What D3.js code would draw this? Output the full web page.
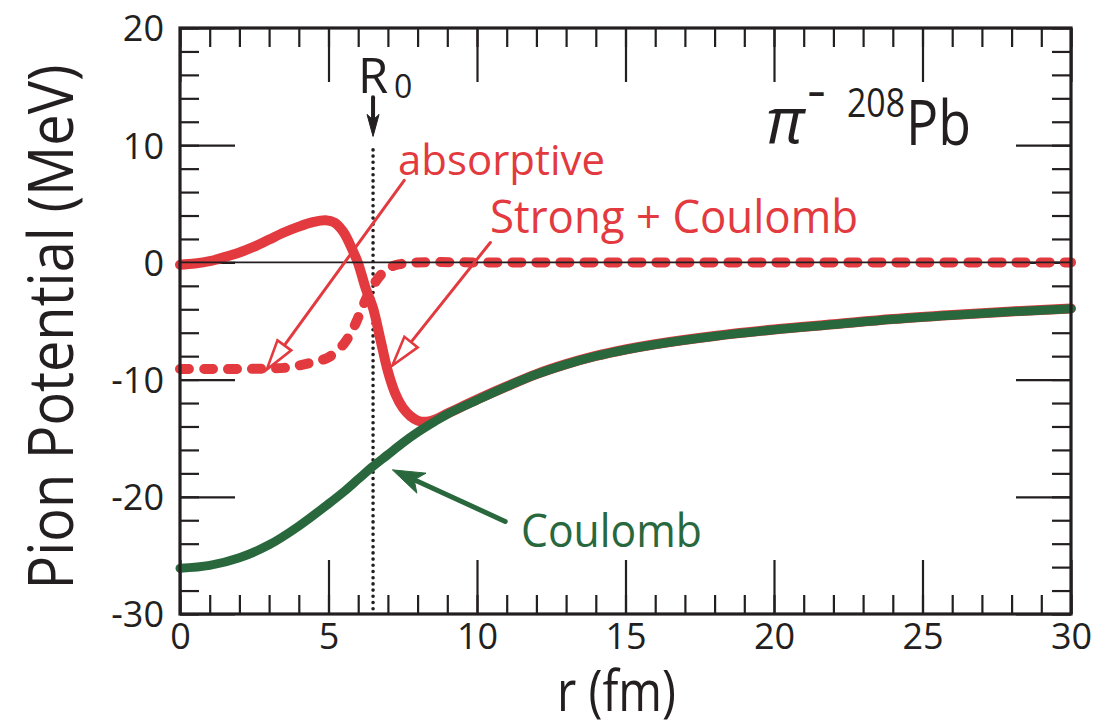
<!DOCTYPE html>
<html>
<head>
<meta charset="utf-8">
<script src="https://cdn.jsdelivr.net/npm/d3@7"></script>
<style>
  html, body { margin: 0; padding: 0; background: #fff; }
  svg { display: block; }
  text { font-family: "Open Sans", "Noto Sans", sans-serif; fill: #231f20; }
</style>
</head>
<body>
<svg id="chart" width="1115" height="724"></svg>
<script>
// ---------------- data ----------------
const rCoulomb = [0, 1, 2, 3, 4, 5, 5.5, 6, 6.5, 7, 7.5, 8, 8.5, 9, 10, 11, 12, 13, 14, 15, 16, 18, 20, 22, 24, 26, 28, 30];
const vCoulomb = [-26.1, -25.85, -25.2, -24.1, -22.5, -20.6, -19.6, -18.5, -17.4, -16.4, -15.4, -14.5, -13.7, -12.95, -11.75, -10.6, -9.55, -8.7, -8.0, -7.45, -7.0, -6.3, -5.75, -5.3, -4.85, -4.5, -4.2, -3.95];

const rStrong = [0, 0.5, 1, 1.5, 2, 2.5, 3, 3.5, 4, 4.5, 4.9, 5.2, 5.5, 5.8, 6.0, 6.25, 6.5, 6.75, 7.0, 7.25, 7.5, 7.75, 8.0, 8.3, 8.6, 9.0, 9.5, 10, 11, 12, 13, 14, 15, 16, 18, 20, 22, 24, 26, 28, 30];
const vStrong = [-0.2, -0.1, 0.1, 0.45, 0.85, 1.35, 1.95, 2.55, 3.05, 3.45, 3.6, 3.4, 2.6, 1.1, -0.1, -2.2, -3.9, -6.6, -9.3, -11.2, -12.4, -13.1, -13.5, -13.6, -13.4, -12.9, -12.3, -11.7, -10.58, -9.53, -8.68, -7.98, -7.43, -6.98, -6.28, -5.73, -5.28, -4.83, -4.48, -4.18, -3.93];

const rAbsorb = [0, 1, 2, 3, 3.5, 4, 4.5, 5, 5.5, 5.8, 6.0, 6.25, 6.5, 6.75, 7.0, 7.4, 8, 10, 15, 20, 25, 30];
const vAbsorb = [-9.1, -9.1, -9.1, -9.05, -9.0, -8.8, -8.5, -8.1, -7.0, -5.8, -4.7, -3.2, -2.0, -1.1, -0.5, -0.15, 0, 0, 0, 0, 0, 0];

const xMajorTicks = [0, 5, 10, 15, 20, 25, 30];
const xMinorTicks = d3.range(0, 31, 1);
const yMajorTicks = [-30, -20, -10, 0, 10, 20];
const yMinorTicks = d3.range(-30, 21, 2);
const xTickLabels = ["0", "5", "10", "15", "20", "25", "30"];
const yTickLabels = ["-30", "-20", "-10", "0", "10", "20"];

const R0 = 6.5;

// ---------------- setup ----------------
const svg = d3.select("#chart");
const L = 180, R = 1071, T = 28, B = 614;
const x = d3.scaleLinear().domain([0, 30]).range([L, R]);
const y = d3.scaleLinear().domain([-30, 20]).range([B, T]);

const RED = "#e23a3f", GREEN = "#29683d", INK = "#231f20";

function styleAxis(g) {
  g.select(".domain").remove();
  g.selectAll(".tick line").attr("stroke", INK).attr("stroke-width", 2.2);
  g.selectAll(".tick text").remove();
}

// inward ticks on all four sides
svg.append("g").attr("transform", `translate(0,${B})`)
  .call(d3.axisBottom(x).tickValues(xMinorTicks).tickSize(-19).tickSizeOuter(0)).call(styleAxis);
svg.append("g").attr("transform", `translate(0,${B})`)
  .call(d3.axisBottom(x).tickValues(xMajorTicks).tickSize(-54).tickSizeOuter(0)).call(styleAxis);
svg.append("g").attr("transform", `translate(0,${T})`)
  .call(d3.axisTop(x).tickValues(xMinorTicks).tickSize(-19).tickSizeOuter(0)).call(styleAxis);
svg.append("g").attr("transform", `translate(0,${T})`)
  .call(d3.axisTop(x).tickValues(xMajorTicks).tickSize(-54).tickSizeOuter(0)).call(styleAxis);
svg.append("g").attr("transform", `translate(${L},0)`)
  .call(d3.axisLeft(y).tickValues(yMinorTicks).tickSize(-19).tickSizeOuter(0)).call(styleAxis);
svg.append("g").attr("transform", `translate(${L},0)`)
  .call(d3.axisLeft(y).tickValues(yMajorTicks).tickSize(-55).tickSizeOuter(0)).call(styleAxis);
svg.append("g").attr("transform", `translate(${R},0)`)
  .call(d3.axisRight(y).tickValues(yMinorTicks).tickSize(-19).tickSizeOuter(0)).call(styleAxis);
svg.append("g").attr("transform", `translate(${R},0)`)
  .call(d3.axisRight(y).tickValues(yMajorTicks).tickSize(-55).tickSizeOuter(0)).call(styleAxis);

// tick labels via axes
const xLab = svg.append("g").attr("transform", `translate(0,${B})`)
  .call(d3.axisBottom(x).tickValues(xMajorTicks).tickSize(0).tickPadding(8)
    .tickFormat((d, i) => xTickLabels[i]));
xLab.select(".domain").remove();
xLab.selectAll(".tick text").attr("font-size", 36).attr("fill", INK)
  .attr("font-family", "'Open Sans', 'Noto Sans', sans-serif").attr("dy", "0.74em");

const yLab = svg.append("g").attr("transform", `translate(${L},0)`)
  .call(d3.axisLeft(y).tickValues(yMajorTicks).tickSize(0).tickPadding(16)
    .tickFormat((d, i) => yTickLabels[i]));
yLab.select(".domain").remove();
yLab.selectAll(".tick text").attr("font-size", 36).attr("fill", INK)
  .attr("font-family", "'Open Sans', 'Noto Sans', sans-serif").attr("dy", "0.36em");

// ---------------- curves ----------------
const line = d3.line().x(d => x(d[0])).y(d => y(d[1])).curve(d3.curveCatmullRom.alpha(0.5));
const zip = (a, b) => a.map((v, i) => [v, b[i]]);

// R0 dotted line
svg.append("line")
  .attr("x1", x(R0)).attr("x2", x(R0)).attr("y1", y(9.6)).attr("y2", y(-30))
  .attr("stroke", INK).attr("stroke-width", 3.6).attr("stroke-linecap", "round")
  .attr("stroke-dasharray", "0 6.2");

svg.append("path").datum(zip(rAbsorb, vAbsorb))
  .attr("d", line).attr("fill", "none").attr("stroke", RED)
  .attr("stroke-width", 10).attr("stroke-linecap", "round").attr("stroke-dasharray", "9 15");

svg.append("path").datum(zip(rStrong, vStrong))
  .attr("d", line).attr("fill", "none").attr("stroke", RED)
  .attr("stroke-width", 10).attr("stroke-linecap", "round").attr("stroke-linejoin", "round");

svg.append("path").datum(zip(rCoulomb, vCoulomb))
  .attr("d", line).attr("fill", "none").attr("stroke", GREEN)
  .attr("stroke-width", 9).attr("stroke-linecap", "round").attr("stroke-linejoin", "round");

// zero line
svg.append("line").attr("x1", x(0)).attr("x2", x(30)).attr("y1", y(0)).attr("y2", y(0))
  .attr("stroke", INK).attr("stroke-width", 1.6);

// frame
svg.append("rect").attr("x", L).attr("y", T).attr("width", R - L).attr("height", B - T)
  .attr("fill", "none").attr("stroke", INK).attr("stroke-width", 3.2);

// ---------------- annotations ----------------
function arrow(x1, y1, x2, y2, opts) {
  const dx = x2 - x1, dy = y2 - y1, len = Math.hypot(dx, dy);
  const ux = dx / len, uy = dy / len, px = -uy, py = ux;
  const hl = opts.headLen, hw = opts.headWidth;
  const bx = x2 - ux * hl, by = y2 - uy * hl;
  const shaftEnd = opts.open ? [bx, by] : [x2 - ux * hl * 0.6, y2 - uy * hl * 0.6];
  svg.append("line").attr("x1", x1).attr("y1", y1).attr("x2", shaftEnd[0]).attr("y2", shaftEnd[1])
    .attr("stroke", opts.color).attr("stroke-width", opts.width).attr("stroke-linecap", "round");
  let pts;
  if (opts.open) {
    pts = [[x2, y2], [bx + px * hw, by + py * hw], [bx - px * hw, by - py * hw]];
  } else {
    const nx = x2 - ux * hl * 0.75, ny = y2 - uy * hl * 0.75;
    pts = [[x2, y2], [bx + px * hw, by + py * hw], [nx, ny], [bx - px * hw, by - py * hw]];
  }
  svg.append("polygon").attr("points", pts.map(p => p.join(",")).join(" "))
    .attr("fill", opts.open ? "#fff" : opts.color)
    .attr("stroke", opts.color).attr("stroke-width", opts.open ? 2.6 : 1)
    .attr("stroke-linejoin", "miter");
}

// absorptive arrow
arrow(x(7.55), y(7.0), x(2.92), y(-9.15), { color: RED, width: 3, headLen: 30, headWidth: 8.5, open: true });
// strong + coulomb arrow
arrow(x(10.45), y(1.7), x(7.15), y(-8.8), { color: RED, width: 3, headLen: 30, headWidth: 8.5, open: true });
// coulomb arrow
arrow(x(10.95), y(-22.1), x(7.15), y(-17.7), { color: GREEN, width: 5, headLen: 32, headWidth: 11, open: false });
// R0 arrow
arrow(x(R0), y(14.1), x(R0), y(10.75), { color: INK, width: 4, headLen: 22, headWidth: 6, open: false });

// texts
svg.append("text").attr("x", 358).attr("y", 93).attr("font-size", 49).text("R");
svg.append("text").attr("x", 394).attr("y", 98).attr("font-size", 32).text("0");

svg.append("text").attr("x", 398).attr("y", 175).attr("font-size", 42).style("fill", RED)
  .attr("textLength", 207).attr("lengthAdjust", "spacingAndGlyphs").text("absorptive");
svg.append("text").attr("x", 490).attr("y", 233).attr("font-size", 45).style("fill", RED)
  .attr("textLength", 368).attr("lengthAdjust", "spacingAndGlyphs").text("Strong + Coulomb");
svg.append("text").attr("x", 521).attr("y", 547).attr("font-size", 45).style("fill", GREEN)
  .attr("textLength", 181).attr("lengthAdjust", "spacingAndGlyphs").text("Coulomb");

svg.append("text").attr("x", 766).attr("y", 143).attr("font-size", 64).attr("font-style", "italic").text("π");
svg.append("text").attr("x", 808).attr("y", 103).attr("font-size", 34).attr("font-weight", "bold").text("–");
svg.append("text").attr("x", 847).attr("y", 117).attr("font-size", 40)
  .attr("textLength", 58).attr("lengthAdjust", "spacingAndGlyphs").text("208");
svg.append("text").attr("x", 906).attr("y", 145).attr("font-size", 62)
  .attr("textLength", 65).attr("lengthAdjust", "spacingAndGlyphs").text("Pb");

// axis titles
svg.append("text").attr("transform", "translate(73,327) rotate(-90)")
  .attr("text-anchor", "middle").attr("font-size", 62)
  .attr("textLength", 525).attr("lengthAdjust", "spacingAndGlyphs").text("Pion Potential (MeV)");
svg.append("text").attr("x", 557).attr("y", 711).attr("font-size", 57)
  .attr("textLength", 119).attr("lengthAdjust", "spacingAndGlyphs").text("r (fm)");
</script>
</body>
</html>
